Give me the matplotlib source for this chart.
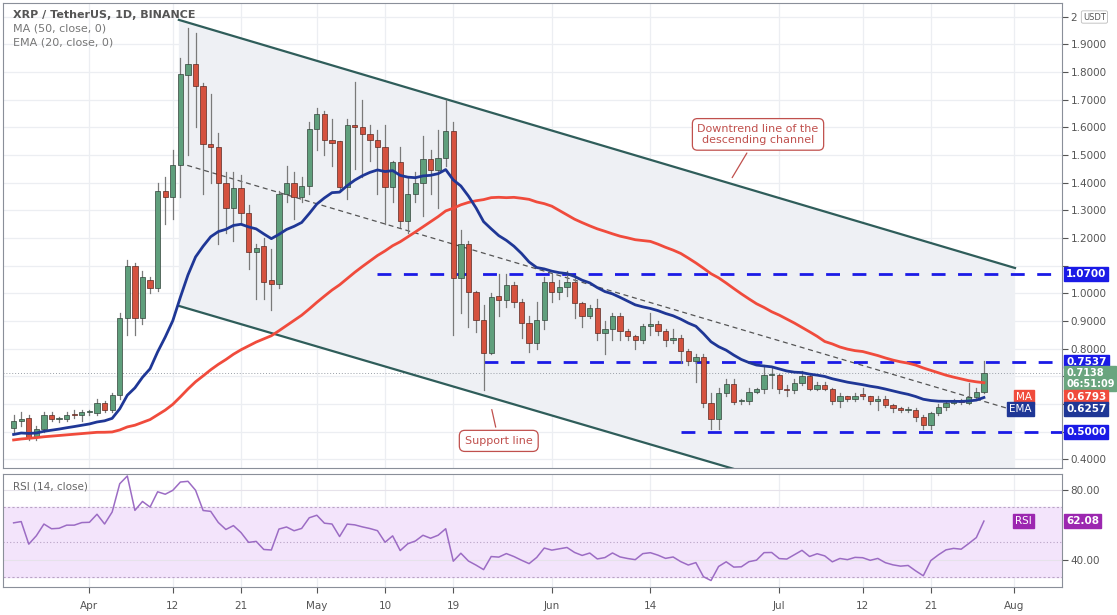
import numpy as np
import pandas as pd
import matplotlib
matplotlib.use("Agg")
import matplotlib.pyplot as plt
from matplotlib.patches import Rectangle, Polygon
import matplotlib.transforms as mtrans

# ---------------- data (day index: Apr 1 = 0) ----------------
first_day = -10  # Mar 22
opens = [.515,.54,.55,.48,.51,.56,.545,.547,.565,.56,.57,.567,.603,.58,.633,.91,1.10,.91,1.05,1.02,
         1.37,1.35,1.465,1.79,1.83,1.75,1.54,1.53,1.40,1.31,1.38,1.29,1.15,1.17,1.05,1.035,1.36,1.40,1.35,1.39,
         1.595,1.65,1.555,1.55,1.385,1.61,1.60,1.575,1.555,1.53,1.386,1.477,1.263,1.36,1.40,1.486,1.447,1.49,1.588,1.056,
         1.18,1.005,.904,.786,.99,.975,1.031,.97,.894,.822,.904,1.04,1.004,1.022,1.04,.965,.919,.946,.858,.872,
         .919,.866,.845,.83,.882,.89,.864,.83,.84,.793,.757,.772,.603,.545,.639,.673,.61,.611,.645,.655,
         .705,.705,.655,.65,.675,.70,.655,.67,.655,.612,.63,.62,.635,.628,.613,.62,.597,.587,.578,.58,
         .552,.524,.569,.588,.605,.61,.605,.625,.645]
highs = [.56,.57,.56,.52,.57,.57,.555,.57,.58,.58,.58,.62,.61,.64,.93,1.12,1.11,1.08,1.06,1.40,
         1.42,1.52,1.85,1.96,1.94,1.76,1.72,1.58,1.44,1.44,1.43,1.32,1.18,1.20,1.16,1.37,1.46,1.44,1.42,1.62,
         1.67,1.66,1.63,1.55,1.63,1.765,1.70,1.61,1.59,1.61,1.48,1.53,1.42,1.44,1.57,1.52,1.59,1.70,1.62,1.23,
         1.19,1.01,.96,1.00,1.07,1.07,1.04,.98,.92,.97,1.06,1.07,1.05,1.08,1.06,.97,.96,.98,.90,.93,
         .93,.87,.85,.89,.93,.90,.87,.87,.85,.80,.78,.78,.64,.66,.69,.69,.62,.66,.66,.74,
         .73,.71,.67,.69,.72,.71,.68,.68,.66,.64,.63,.64,.66,.63,.63,.63,.60,.59,.59,.585,
         .56,.57,.60,.61,.62,.62,.675,.66,.755]
lows = [.50,.52,.47,.47,.50,.54,.535,.54,.55,.54,.56,.56,.57,.57,.62,.85,.85,.89,1.00,1.01,
        1.25,1.27,1.35,1.50,1.60,1.36,1.40,1.18,1.22,1.19,1.25,1.09,.98,.98,.94,1.02,1.33,1.27,1.33,1.36,
        1.52,1.50,1.46,1.37,1.34,1.45,1.42,1.48,1.36,1.25,1.33,1.24,1.22,1.33,1.28,1.36,1.31,1.46,.85,.93,
        .88,.86,.65,.78,.92,.95,.95,.84,.79,.80,.87,.97,.98,.99,.91,.88,.91,.83,.78,.83,
        .83,.83,.80,.82,.85,.85,.81,.82,.75,.74,.68,.59,.51,.51,.63,.60,.60,.60,.64,.64,
        .66,.64,.63,.64,.67,.65,.65,.65,.60,.59,.61,.61,.62,.60,.58,.59,.57,.57,.57,.54,
        .51,.51,.56,.58,.60,.60,.60,.62,.64]
closes = [.54,.545,.48,.51,.56,.545,.547,.56,.56,.57,.571,.603,.58,.633,.91,1.10,.91,1.06,1.02,1.37,
          1.35,1.465,1.794,1.83,1.75,1.54,1.53,1.40,1.31,1.38,1.29,1.15,1.165,1.043,1.035,1.36,1.40,1.35,1.39,1.595,
          1.65,1.555,1.545,1.385,1.61,1.60,1.575,1.555,1.53,1.386,1.476,1.263,1.36,1.40,1.486,1.447,1.49,1.588,1.056,1.18,
          1.005,.904,.786,.988,.975,1.03,.97,.894,.822,.904,1.04,1.004,1.022,1.04,.965,.919,.946,.858,.872,.919,
          .866,.845,.83,.882,.89,.864,.83,.84,.793,.757,.772,.603,.545,.639,.673,.609,.611,.645,.655,.705,
          .706,.654,.65,.675,.70,.655,.67,.655,.612,.628,.62,.63,.628,.613,.62,.597,.585,.578,.58,.552,
          .524,.569,.588,.605,.61,.607,.625,.645,.7138]
# closes before the visible window (Feb 1 - Mar 21), for indicator warm-up
pre_closes = [.37,.37,.38,.40,.43,.44,.43,.44,.45,.46,.50,.57,.58,.55,.55,.60,.55,.51,.52,.49,
              .42,.44,.41,.45,.47,.43,.42,.44,.42,.48,.45,.47,.47,.47,.46,.47,.44,.42,.46,.46,
              .43,.45,.44,.47,.48,.53,.55,.54,.55]

tick_days = [0, 11, 20, 30, 39, 48, 61, 74, 91, 102, 111, 122]
tick_labels = ["Apr", "12", "21", "May", "10", "19", "Jun", "14", "Jul", "12", "21", "Aug"]
price_ticks = [0.4, 0.5, 0.6, 0.7, 0.8, 0.9, 1.0, 1.1, 1.2, 1.3, 1.4, 1.5, 1.6, 1.7, 1.8, 1.9, 2.0]
hidden_ticks = [0.5, 0.6, 0.7, 1.1]   # covered by price labels
levels = [1.07, 0.7537, 0.50]
level_start = [38, 52, 78]
upper_channel = ([11.8, 122.1], [1.989, 1.092])
lower_channel = ([11.8, 122.1], [0.955, 0.067])
mid_trend = ([11.8, 121.8], [1.472, 0.579])
last_close, ma_last, ema_last = 0.7138, 0.6793, 0.6257

# ---------------- indicators ----------------
n = len(closes)
days = np.arange(first_day, first_day + n)
allc = pd.Series(pre_closes + closes)
ma50 = allc.rolling(50, min_periods=1).mean().values[-n:]
ema20 = allc.ewm(span=20, adjust=False).mean().values[-n:]
d = allc.diff()
up = d.clip(lower=0).ewm(alpha=1/14, adjust=False).mean()
dn = (-d.clip(upper=0)).ewm(alpha=1/14, adjust=False).mean()
rsi = (100 - 100 / (1 + up / dn)).values[-n:]

# ---------------- figure ----------------
W, H = 1117, 615
fig = plt.figure(figsize=(W / 100, H / 100), dpi=100)
fig.patch.set_facecolor("white")
ax = fig.add_axes([3 / W, (615 - 468) / H, (1062 - 3) / W, (468 - 3) / H])
ax2 = fig.add_axes([3 / W, (615 - 587) / H, (1062 - 3) / W, (587 - 474) / H], sharex=ax)

xl = (first_day - 1.4, 128.3)
ax.set_xlim(*xl)
ax.set_ylim(0.369, 2.05)

grid_c = "#eceef2"
for a in (ax, ax2):
    for t in tick_days:
        a.axvline(t, color=grid_c, lw=0.9, zorder=0)
    for s in a.spines.values():
        s.set_color("#8a8f99")
        s.set_linewidth(0.8)
for p in price_ticks:
    ax.axhline(p, color=grid_c, lw=0.9, zorder=0)

# channel shading
ux, uy = upper_channel
lx, ly = lower_channel
ax.add_patch(Polygon([[ux[0], uy[0]], [ux[1], uy[1]], [lx[1], ly[1]], [lx[0], ly[0]]],
                     closed=True, facecolor="#eef0f4", edgecolor="none", zorder=0.5))
ax.plot(ux, uy, color="#2f5d5a", lw=1.6, zorder=2)
ax.plot(lx, ly, color="#2f5d5a", lw=1.6, zorder=2)
ax.plot(*mid_trend, color="#555555", lw=0.9, ls=(0, (4, 3)), zorder=2)

# horizontal levels
for lv, st in zip(levels, level_start):
    ax.plot([st, xl[1]], [lv, lv], color="#1a1ae6", lw=2.0, ls=(0, (5, 4.5)), zorder=3)
ax.axhline(last_close, color="#9aa0a8", lw=0.7, ls=(0, (1, 2)), zorder=1)

# candles
green, red = "#5f9f7c", "#d5523f"
wbody = 0.7
for i in range(n):
    o, h, l, c = opens[i], highs[i], lows[i], closes[i]
    col = green if c >= o else red
    ax.plot([days[i], days[i]], [l, h], color="#7a7a7a", lw=0.9, zorder=4)
    ax.add_patch(Rectangle((days[i] - wbody / 2, min(o, c)), wbody, max(abs(c - o), 0.004),
                           facecolor=col, edgecolor="#33433a" if col == green else "#5a2a22",
                           lw=0.5, zorder=5))

ax.plot(days, ma50, color="#f04b3c", lw=2.0, zorder=6)
ax.plot(days, ema20, color="#1f3796", lw=2.0, zorder=7)

# axes ticks
ax.yaxis.tick_right()
ax.set_yticks(price_ticks)
ax.set_yticklabels(["" if p in hidden_ticks else ("%.4f" % p if p < 2 else "2") for p in price_ticks])
ax.tick_params(axis="y", colors="#555555", labelsize=7.5, length=4, pad=2)
ax.tick_params(axis="x", bottom=False, labelbottom=False)

# right price labels (nudged apart vertically like the platform does)
trb = mtrans.blended_transform_factory(ax.transAxes, ax.transData)
def plabel(y, txt, fc, fs=7.5):
    ax.text(1.004, y, txt, transform=trb, fontsize=fs, color="white", va="center", ha="left",
            fontweight="bold", linespacing=1.1,
            bbox=dict(boxstyle="square,pad=0.18", fc=fc, ec=fc), zorder=10, clip_on=False)
def tag(y, txt, fc):
    ax.text(0.9715, y, txt, transform=trb, fontsize=7.5, color="white", va="center", ha="right",
            bbox=dict(boxstyle="square,pad=0.18", fc=fc, ec=fc), zorder=10, clip_on=False)

plabel(1.07, "1.0700", "#1a1ae6")
plabel(0.7537, "0.7537", "#1a1ae6")
plabel(0.693, "%.4f\n06:51:09" % last_close, "#6aa57f", fs=7)
plabel(0.626, "%.4f" % ma_last, "#f04b3c")
plabel(0.583, "%.4f" % ema_last, "#1f3796")
plabel(0.5, "0.5000", "#1a1ae6")
tag(0.626, "MA", "#f04b3c")
tag(0.583, "EMA", "#1f3796")
fig.text(1083 / W, 1 - 17 / H, "USDT", fontsize=6, color="#555555", va="center", ha="left",
         bbox=dict(boxstyle="round,pad=0.2", fc="white", ec="#bbbbbb", lw=0.6))

# legend text
ax.text(0.009, 0.985, "XRP / TetherUS, 1D, BINANCE", transform=ax.transAxes, fontsize=8,
        color="#555555", fontweight="bold", va="top")
ax.text(0.009, 0.955, "MA (50, close, 0)", transform=ax.transAxes, fontsize=8, color="#777777", va="top")
ax.text(0.009, 0.925, "EMA (20, close, 0)", transform=ax.transAxes, fontsize=8, color="#777777", va="top")

# callouts
cc = "#c0504d"
ax.annotate("Downtrend line of the\ndescending channel", xy=(84.6, 1.41), xytext=(88.2, 1.575),
            fontsize=8, color=cc, ha="center", va="center",
            bbox=dict(boxstyle="round,pad=0.45", fc="white", ec=cc, lw=0.9),
            arrowprops=dict(arrowstyle="-", color=cc, lw=0.9), zorder=12)
ax.annotate("Support line", xy=(53, 0.59), xytext=(54.0, 0.467),
            fontsize=8, color=cc, ha="center", va="center",
            bbox=dict(boxstyle="round,pad=0.5", fc="white", ec=cc, lw=0.9),
            arrowprops=dict(arrowstyle="-", color=cc, lw=0.9), zorder=12)

# ---------------- RSI ----------------
ax2.set_ylim(24.4, 89)
ax2.axhspan(30, 70, color="#f3e4fb", zorder=0.5)
for lv, ls in [(70, (0, (2, 2))), (30, (0, (2, 2))), (50, (0, (1, 2)))]:
    ax2.axhline(lv, color="#b9a3c6", lw=0.8, ls=ls, zorder=1)
for lv in (40, 80):
    ax2.axhline(lv, color="#e6e2ea", lw=0.8, zorder=0.8)
ax2.plot(days, rsi, color="#9c6cc4", lw=1.1, zorder=3)
ax2.yaxis.tick_right()
ax2.set_yticks([40, 80])
ax2.set_yticklabels(["40.00", "80.00"])
ax2.tick_params(axis="y", colors="#555555", labelsize=7.5, length=4, pad=2)
ax2.set_xticks(tick_days)
ax2.set_xticklabels(tick_labels)
ax2.tick_params(axis="x", colors="#555555", labelsize=7.5, length=4, pad=6)
ax2.text(0.009, 0.93, "RSI (14, close)", transform=ax2.transAxes, fontsize=7.5, color="#666666", va="top")
trb2 = mtrans.blended_transform_factory(ax2.transAxes, ax2.transData)
ax2.text(1.004, rsi[-1], "%.2f" % rsi[-1], transform=trb2, fontsize=7.5, color="white", va="center",
         fontweight="bold", bbox=dict(boxstyle="square,pad=0.18", fc="#9c27b0", ec="#9c27b0"), clip_on=False)
ax2.text(0.9715, rsi[-1], "RSI", transform=trb2, fontsize=7.5, color="white", va="center", ha="right",
         bbox=dict(boxstyle="square,pad=0.18", fc="#9c27b0", ec="#9c27b0"), clip_on=False)

fig.savefig("out.png", dpi=100, facecolor="white")
